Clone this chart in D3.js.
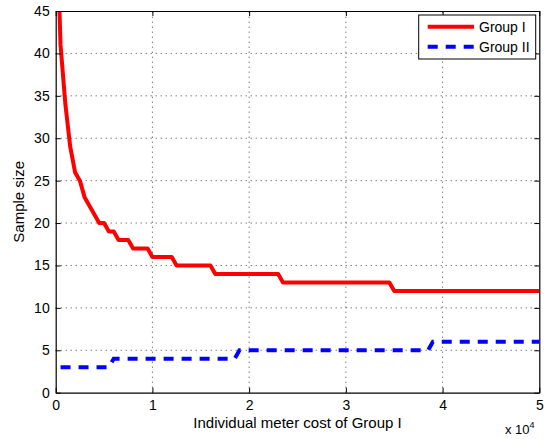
<!DOCTYPE html>
<meta charset="utf-8">
<title>Sample size vs meter cost</title>
<style>
body { margin: 0; background: #fff; }
svg { font-family: "Liberation Sans", Arial, sans-serif; }
.grid line { stroke: #444; stroke-width: 1; stroke-dasharray: 1,4; }
</style>
<body>
<script src="https://d3js.org/d3.v7.min.js"></script>
<script>

var width = 549, height = 439;
var margin = {left: 55.7, right: 9.7, top: 11, bottom: 46.3};

// Group I sample size vs individual meter cost
var costI = [200, 500, 1000, 1500, 2000, 2500, 3000, 3500, 4000, 4500, 5000, 5500, 6000, 6500, 7500, 8000, 9500, 10000, 12000, 12500, 16000, 16500, 23000, 23500, 34500, 35000, 50000];
var sizeI = [52, 41, 34, 29, 26, 25, 23, 22, 21, 20, 20, 19, 19, 18, 18, 17, 17, 16, 16, 15, 15, 14, 14, 13, 13, 12, 12];

// Group II sample size
var costII = [500, 5500, 6000, 18500, 19000, 38500, 39000, 50000];
var sizeII = [3, 3, 4, 4, 5, 5, 6, 6];

var xTicks = [0, 10000, 20000, 30000, 40000, 50000];
var xTickLabels = ["0", "1", "2", "3", "4", "5"];
var yTicks = [0, 5, 10, 15, 20, 25, 30, 35, 40, 45];
var seriesNames = ["Group I", "Group II"];

var svg = d3.select("body").append("svg")
    .attr("width", width)
    .attr("height", height);

var x = d3.scaleLinear().domain([0, 50000]).range([margin.left, width - margin.right]);
var y = d3.scaleLinear().domain([0, 45]).range([height - margin.bottom, margin.top]);

svg.append("defs").append("clipPath").attr("id", "clip")
  .append("rect")
    .attr("x", x(0)).attr("y", y(45))
    .attr("width", x(50000) - x(0)).attr("height", y(0) - y(45));

// grid
var grid = svg.append("g").attr("class", "grid");
grid.selectAll(".gx").data(xTicks.slice(1, -1)).enter().append("line")
    .attr("x1", d => x(d)).attr("x2", d => x(d))
    .attr("y1", y(0)).attr("y2", y(45));
grid.selectAll(".gy").data(yTicks.slice(1, -1)).enter().append("line")
    .attr("x1", x(0)).attr("x2", x(50000))
    .attr("y1", d => y(d)).attr("y2", d => y(d));

// lines
var line = d3.line().x(d => x(d[0])).y(d => y(d[1]));
var plot = svg.append("g").attr("clip-path", "url(#clip)");

plot.append("path")
    .datum(d3.zip(costI, sizeI))
    .attr("d", line)
    .attr("fill", "none")
    .attr("stroke", "#ff0000")
    .attr("stroke-width", 4)
    .attr("stroke-linejoin", "round");

plot.append("path")
    .datum(d3.zip(costII, sizeII))
    .attr("d", line)
    .attr("fill", "none")
    .attr("stroke", "#0000ff")
    .attr("stroke-width", 4)
    .attr("stroke-dasharray", "10,8");

// axes (MATLAB box with inward ticks)
var tickLen = 5;
var xAxis = d3.axisBottom(x).tickValues(xTicks).tickSizeInner(-tickLen).tickSizeOuter(0)
    .tickFormat((d, i) => xTickLabels[i]).tickPadding(7);
var yAxis = d3.axisLeft(y).tickValues(yTicks).tickSizeInner(-tickLen).tickSizeOuter(0).tickPadding(6);

var gx = svg.append("g").attr("transform", "translate(0," + y(0) + ")").call(xAxis);
var gy = svg.append("g").attr("transform", "translate(" + x(0) + ",0)").call(yAxis);
var gxt = svg.append("g").attr("transform", "translate(0," + y(45) + ")")
    .call(d3.axisTop(x).tickValues(xTicks).tickSizeInner(-tickLen).tickSizeOuter(0).tickFormat(""));
var gyr = svg.append("g").attr("transform", "translate(" + x(50000) + ",0)")
    .call(d3.axisRight(y).tickValues(yTicks).tickSizeInner(-tickLen).tickSizeOuter(0).tickFormat(""));

[gx, gy, gxt, gyr].forEach(function(g) {
  g.select(".domain").attr("stroke", "#000").attr("stroke-width", 1.2);
  g.selectAll(".tick line").attr("stroke", "#000");
  g.selectAll("text").attr("font-size", 14).attr("fill", "#000")
    .attr("font-family", "Liberation Sans, Arial, sans-serif");
});

// axis titles
svg.append("text")
    .attr("x", (x(0) + x(50000)) / 2)
    .attr("y", 428)
    .attr("text-anchor", "middle")
    .attr("font-size", 15)
    .text("Individual meter cost of Group I");

svg.append("text")
    .attr("transform", "translate(24," + ((y(0) + y(45)) / 2) + ") rotate(-90)")
    .attr("text-anchor", "middle")
    .attr("font-size", 15)
    .text("Sample size");

var mult = svg.append("text")
    .attr("x", 505)
    .attr("y", 434)
    .attr("font-size", 13);
mult.append("tspan").text("x 10");
mult.append("tspan").attr("dy", -6).attr("font-size", 9).text("4");

// legend
var leg = svg.append("g");
leg.append("rect")
    .attr("x", 418.7).attr("y", 15)
    .attr("width", 117).attr("height", 44)
    .attr("fill", "#fff").attr("stroke", "#000").attr("stroke-width", 1);

var legItems = leg.selectAll(".item").data(seriesNames).enter().append("g")
    .attr("transform", (d, i) => "translate(0," + (26.7 + i * 20) + ")");
legItems.append("line")
    .attr("x1", 427.7).attr("x2", 474)
    .attr("stroke", (d, i) => i ? "#0000ff" : "#ff0000")
    .attr("stroke-width", 4)
    .attr("stroke-dasharray", (d, i) => i ? "10,8" : null);
legItems.append("text")
    .attr("x", 479).attr("y", 5)
    .attr("font-size", 14)
    .text(d => d);

</script>
